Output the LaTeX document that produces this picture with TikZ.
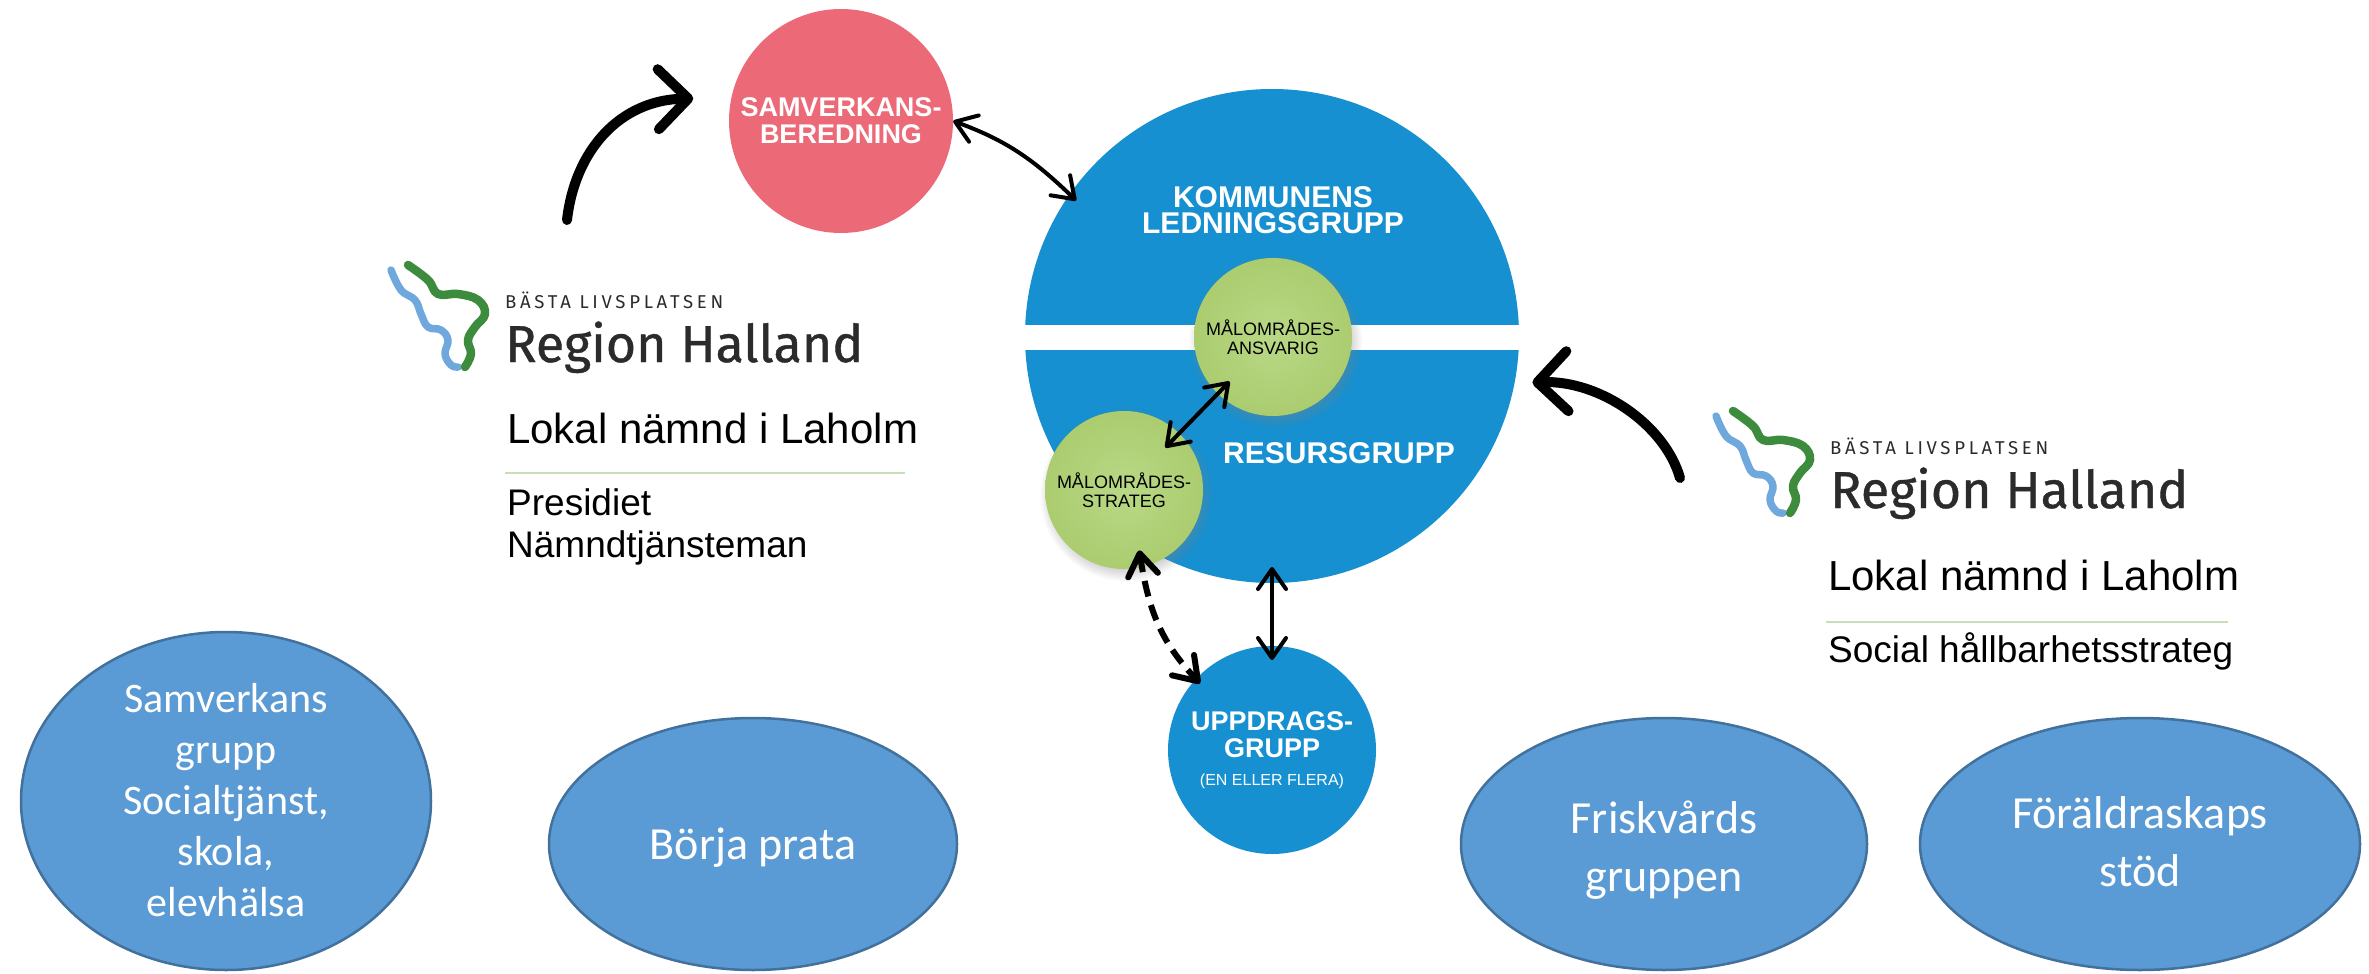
\documentclass[tikz,border=0pt]{standalone}
\usepackage{fontspec}
\setmainfont{Liberation Sans}
\newfontfamily\calibrifont{Carlito}
\newfontfamily\logofont[FakeBold=0.8]{Fira Sans}
\newfontfamily\logospaced[LetterSpace=20]{Fira Sans}
\usetikzlibrary{arrows.meta,shapes.geometric,shadows}
\definecolor{bigblue}{HTML}{1690D0}
\definecolor{pinkc}{HTML}{EC6A78}
\definecolor{greenhi}{HTML}{B9D886}
\definecolor{greenc}{HTML}{A9CB6C}
\definecolor{greenrim}{HTML}{8BAE4E}
\definecolor{ellfill}{HTML}{5B9BD5}
\definecolor{elldraw}{HTML}{41719C}
\definecolor{logoblue}{HTML}{6FA8DC}
\definecolor{logogreen}{HTML}{3D8B3D}
\definecolor{rulegreen}{HTML}{C5E0B4}
\definecolor{logotext}{HTML}{2B2B2B}
\pgfdeclareradialshading{greenball}{\pgfpoint{0bp}{0bp}}{color(0bp)=(greenhi); color(28bp)=(greenc); color(44bp)=(greenc); color(50bp)=(greenrim); color(60bp)=(greenrim)}
\tikzset{
  halland/.pic={
    \draw[line width=7.5pt, logoblue, line cap=round, line join=round] plot[smooth, tension=0.7] coordinates {(3,-8) (13,-28) (27,-38) (33,-52) (40,-65) (53,-68) (60,-78) (57,-92) (63,-103) (70,-105)};
    \draw[line width=8.5pt, logogreen, line cap=round, line join=round] plot[smooth, tension=0.7] coordinates {(20,-3) (40,-18) (50,-32) (70,-32) (90,-38) (97,-52) (87,-65) (80,-78) (83,-92) (77,-105)};
    \node[anchor=base west, inner sep=0, text=logotext] (-basta) at (117,-46) {\resizebox{218pt}{!}{\logospaced BÄSTA LIVSPLATSEN}};
    \node[anchor=base west, inner sep=0, text=logotext] (-region) at (117,-100) {\resizebox{358pt}{!}{\logofont Region Halland}};
  }
}
\begin{document}
\begin{tikzpicture}[x=1pt,y=1pt,
  fatarrow/.style={line width=10pt, line cap=round, arrows={-Straight Barb[length=30pt,width=60pt,round]}},
  thinarrow/.style={line width=4pt, line cap=round, arrows={Straight Barb[length=20pt,width=28pt,round]-Straight Barb[length=20pt,width=28pt,round]}},
  dasharrow/.style={line width=6pt, dash pattern=on 16pt off 9pt, arrows={Straight Barb[length=22pt,width=30pt,round]-Straight Barb[length=22pt,width=30pt,round]}},
  bluecircle/.style={circle, fill=bigblue, inner sep=0, outer sep=0},
  boldwhite/.style={text=white, align=center, font=\bfseries\fontsize{30}{26}\selectfont},
  greenballnode/.style={circle, shading=greenball, minimum size=158pt, inner sep=0, align=center, font=\fontsize{18}{19}\selectfont,
     circular drop shadow={shadow xshift=2pt, shadow yshift=-4pt, opacity=0.35}},
  ellbox/.style={ellipse, fill=ellfill, draw=elldraw, line width=2.5pt, inner sep=0},
  elltext/.style={text=white, align=center, inner sep=0},
  plaintext/.style={anchor=base west, inner sep=0},
  greenrule/.style={rulegreen, line width=2pt}
]
\useasboundingbox (0,0) rectangle (2369,-974);
\fill[white] (0,0) rectangle (2369,-974);

% Region Halland logos
\pic (logoL) at (388,-262) {halland};
\pic (logoR) at (1713,-408) {halland};

% left texts
\node[plaintext, font=\fontsize{42}{48}\selectfont] (lokalL) at (507,-443) {Lokal nämnd i Laholm};
\coordinate (ruleLa) at (505,-473);
\coordinate (ruleLb) at (905,-473);
\draw[greenrule] (ruleLa) -- (ruleLb);
\node[plaintext, font=\fontsize{37}{42}\selectfont] (pres) at (507,-515) {Presidiet};
\node[plaintext, font=\fontsize{37}{42}\selectfont] (namnd) at (507,-557) {Nämndtjänsteman};

% right texts
\node[plaintext, font=\fontsize{42}{48}\selectfont] (lokalR) at (1828,-590) {Lokal nämnd i Laholm};
\coordinate (ruleRa) at (1826,-622);
\coordinate (ruleRb) at (2228,-622);
\draw[greenrule] (ruleRa) -- (ruleRb);
\node[plaintext, font=\fontsize{37}{42}\selectfont] (social) at (1828,-662) {Social hållbarhetsstrateg};

% pink circle
\node[circle, fill=pinkc, minimum size=224pt, inner sep=0, text=white, align=center,
      font=\bfseries\fontsize{27}{27}\selectfont] (pink) at (841,-121) {SAMVERKANS-\\BEREDNING};

% big blue circle
\node[bluecircle, minimum size=494pt] (big) at (1272,-336) {};
\fill[white] (1015,-325) rectangle (1530,-350);
\node[boldwhite] (kl) at (1273,-210) {KOMMUNENS\\LEDNINGSGRUPP};
\node[boldwhite] (rg) at (1339,-453) {RESURSGRUPP};

% green circles
\node[greenballnode] (g1) at (1273,-337) {MÅLOMRÅDES-\\ANSVARIG};
\node[greenballnode] (g2) at (1124,-490) {MÅLOMRÅDES-\\STRATEG};

% uppdragsgrupp
\node[bluecircle, minimum size=208pt, text=white, align=center, font=\bfseries\fontsize{27}{27}\selectfont] (up) at (1272,-750)
  {UPPDRAGS-\\GRUPP\\[1pt]{\mdseries\fontsize{16}{18}\selectfont (EN ELLER FLERA)}};

% bottom ellipses
\node[ellbox, minimum width=410pt, minimum height=338pt] (e1) at (226,-801) {};
\node[elltext, font=\calibrifont\fontsize{42}{51}\selectfont] (t1) at (226,-800) {Samverkans\\grupp\\Socialtjänst,\\skola,\\elevhälsa};
\node[ellbox, minimum width=408pt, minimum height=252pt] (e2) at (753,-844) {};
\node[elltext, font=\calibrifont\fontsize{46}{58}\selectfont] (t2) at (753,-848) {Börja prata};
\node[ellbox, minimum width=406pt, minimum height=252pt] (e3) at (1664,-844) {};
\node[elltext, font=\calibrifont\fontsize{46}{58}\selectfont] (t3) at (1664,-850) {Friskvårds\\gruppen};
\node[ellbox, minimum width=440pt, minimum height=252pt] (e4) at (2140,-844) {};
\node[elltext, font=\calibrifont\fontsize{46}{58}\selectfont] (t4) at (2140,-842) {Föräldraskaps\\stöd};

% arrows
\coordinate (tailL) at (567,-220);
\draw[fatarrow, shorten >=38pt] (tailL) .. controls (575,-150) and (620,-100) .. (pink.168);
\coordinate (tailR) at (1680,-478);
\draw[fatarrow, shorten >=18pt] (tailR) .. controls (1665,-425) and (1600,-380) .. (big.-11);
\draw[thinarrow, shorten >=-9pt] (pink.east) to[bend left=12] (big.145);
\draw[thinarrow, shorten <=-17pt, shorten >=-20pt] (g1) -- (g2);
\draw[dasharrow, shorten <=-17pt, shorten >=-6pt] (g2.-77) to[bend right=17] (up.137);
\draw[thinarrow, shorten <=-16pt, shorten >=-14pt] (big.south) -- (up.north);
\end{tikzpicture}
\end{document}
